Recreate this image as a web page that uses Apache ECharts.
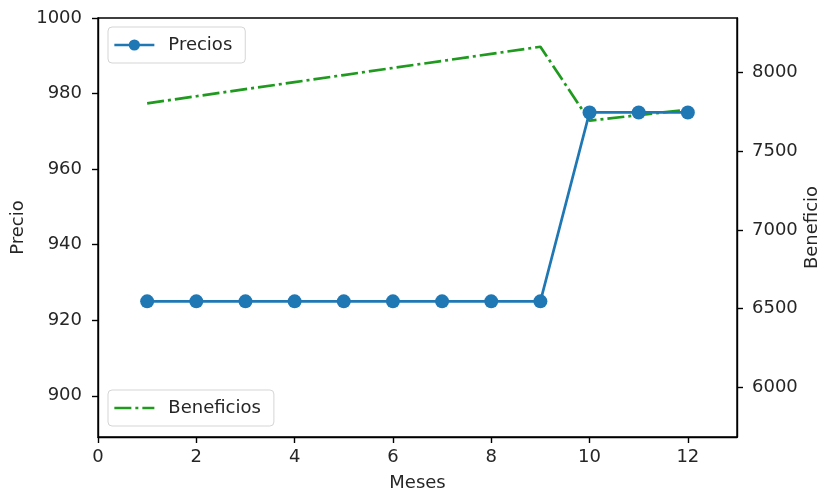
<!DOCTYPE html>
<html>
<head>
<meta charset="utf-8">
<script src="https://cdn.jsdelivr.net/npm/echarts@6/dist/echarts.min.js"></script>
<style>
  html, body { margin: 0; padding: 0; background: #fff; }
  #chart { width: 823px; height: 490px; }
</style>
</head>
<body>
<div id="chart"></div>
<script>
// Monthly price and profit figures
const meses = [1, 2, 3, 4, 5, 6, 7, 8, 9, 10, 11, 12];
const precios = [925, 925, 925, 925, 925, 925, 925, 925, 925, 975, 975, 975];
const beneficios = [7805, 7850, 7895, 7940, 7985, 8030, 8075, 8120, 8165, 7695, 7730, 7765];

// Tick positions shown on each axis
const ticksMeses = [0, 2, 4, 6, 8, 10, 12];
const ticksPrecio = [900, 920, 940, 960, 980, 1000];
const ticksBeneficio = [6000, 6500, 7000, 7500, 8000];

const FONT = 'DejaVu Sans';
const INK = '#262626';
const AXIS_W = 1.4;

const pairs = (xs, ys) => xs.map((x, i) => [x, ys[i]]);
const plain = v => String(v);

const chart = echarts.init(document.getElementById('chart'), null, { renderer: 'canvas' });

const legendBase = {
  orient: 'vertical',
  itemWidth: 40,
  itemHeight: 14,
  padding: [9, 13, 9, 5],
  borderColor: '#d5d5d5',
  borderWidth: 1,
  borderRadius: 4,
  backgroundColor: 'rgba(255,255,255,0.8)',
  lineStyle: { width: 2.7 },
  textStyle: { fontFamily: FONT, fontSize: 18, color: INK, padding: [0, 0, 0, 9] }
};

chart.setOption({
  backgroundColor: '#fff',
  animation: false,
  textStyle: { fontFamily: FONT },
  grid: {
    left: 98, right: 86, top: 18, bottom: 53,
    outerBoundsMode: 'none',
    containLabel: false,
    show: true, borderColor: '#000', borderWidth: AXIS_W, backgroundColor: 'transparent'
  },
  legend: [
    Object.assign({}, legendBase, { left: 108, top: 27, data: ['Precios'] }),
    Object.assign({}, legendBase, {
      left: 108, top: 390, data: ['Beneficios'],
      itemStyle: { opacity: 0 }
    })
  ],
  xAxis: {
    type: 'value',
    min: 0, max: 13,
    name: 'Meses',
    nameLocation: 'middle',
    nameGap: 37,
    nameTextStyle: { fontFamily: FONT, fontSize: 18, color: INK },
    axisLine: { show: true, lineStyle: { color: '#000', width: AXIS_W } },
    axisTick: { show: true, length: 6, inside: false, lineStyle: { color: '#000', width: AXIS_W }, customValues: ticksMeses },
    axisLabel: { fontFamily: FONT, fontSize: 18, color: INK, margin: 11, formatter: plain, customValues: ticksMeses },
    splitLine: { show: false }
  },
  yAxis: [
    {
      type: 'value',
      position: 'left',
      min: 889.1, max: 1000,
      name: 'Precio',
      nameLocation: 'middle',
      nameRotate: 90,
      nameGap: 71,
      nameMoveOverlap: false,
      nameTextStyle: { fontFamily: FONT, fontSize: 18, color: INK },
      axisLine: { show: true, lineStyle: { color: '#000', width: AXIS_W } },
      axisTick: { show: true, length: 6, lineStyle: { color: '#000', width: AXIS_W }, customValues: ticksPrecio },
      axisLabel: { fontFamily: FONT, fontSize: 18, color: INK, margin: 16, formatter: plain, customValues: ticksPrecio },
      splitLine: { show: false }
    },
    {
      type: 'value',
      position: 'right',
      min: 5682, max: 8348,
      name: 'Beneficio',
      nameLocation: 'middle',
      nameRotate: 90,
      nameGap: 66,
      nameMoveOverlap: false,
      nameTextStyle: { fontFamily: FONT, fontSize: 18, color: INK },
      axisLine: { show: true, lineStyle: { color: '#000', width: AXIS_W } },
      axisTick: { show: true, length: 6, lineStyle: { color: '#000', width: AXIS_W }, customValues: ticksBeneficio },
      axisLabel: { fontFamily: FONT, fontSize: 18, color: INK, margin: 15, formatter: plain, customValues: ticksBeneficio },
      splitLine: { show: false }
    }
  ],
  series: [
    {
      name: 'Beneficios',
      type: 'line',
      yAxisIndex: 1,
      data: pairs(meses, beneficios),
      symbol: 'none',
      lineStyle: { color: '#1f9a1f', width: 2.7, type: [17, 4, 3, 4] },
      itemStyle: { color: '#1f9a1f' },
      z: 2
    },
    {
      name: 'Precios',
      type: 'line',
      yAxisIndex: 0,
      data: pairs(meses, precios),
      symbol: 'circle',
      symbolSize: 14,
      lineStyle: { color: '#1f77b4', width: 2.7 },
      itemStyle: { color: '#1f77b4' },
      z: 3
    }
  ]
});
</script>
</body>
</html>
